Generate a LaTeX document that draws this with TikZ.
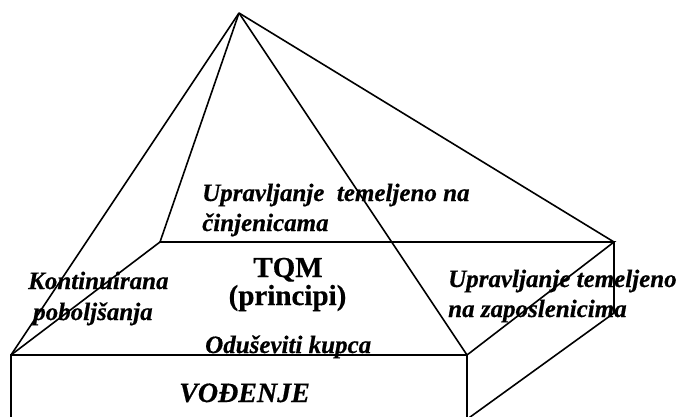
\documentclass[tikz,border=0pt]{standalone}
\usepackage{fontspec}
\setmainfont{Liberation Serif}[BoldFeatures={FakeBold=0.5},BoldItalicFeatures={FakeBold=0.5}]
\begin{document}
\begin{tikzpicture}[x=1pt,y=-1pt,
  edge/.style={line width=1.6pt,line join=miter},
  lbl/.style={inner sep=0pt,anchor=base west,font=\fontsize{25}{30}\selectfont\bfseries\itshape},
  title/.style={inner sep=0pt,anchor=base,font=\fontsize{29}{34}\selectfont\bfseries}]
\useasboundingbox (0,0) rectangle (681,416);
\clip (0,0) rectangle (681,416);
% corners
\coordinate (A) at (239,13);
\coordinate (FL) at (11,355);
\coordinate (FR) at (467,355);
\coordinate (BL) at (160,242);
\coordinate (BR) at (614,242);
\coordinate (BRb) at (614,313);
\coordinate (FLb) at (11,420);
\coordinate (FRb) at (467,420);
\coordinate (Dend) at (466,420);
% box
\draw[edge] (FLb) -- (FL) -- (FR) -- (FRb);
\draw[edge] (FL) -- (BL) -- (BR) -- (FR);
\draw[edge] (BR) -- (BRb) -- (Dend);
% pyramid
\draw[edge] (A) -- (FL);
\draw[edge] (A) -- (BL);
\draw[edge] (A) -- (FR);
\draw[edge] (A) -- (BR);
% texts
\node[lbl] (t1) at (202,201) {Upravljanje\ \ temeljeno na};
\node[lbl] (t2) at (202,231) {činjenicama};
\node[lbl] (k1) at (28,289) {Kontinuirana};
\node[lbl] (k2) at (33,320) {poboljšanja};
\node[lbl] (z1) at (448,287) {Upravljanje temeljeno};
\node[lbl] (z2) at (448,317) {na zaposlenicima};
\node[lbl] (o) at (205,353) {Oduševiti kupca};
\node[title] (tqm) at (288,277) {TQM};
\node[title] (pr) at (287.5,305) {(principi)};
\node[inner sep=0pt,anchor=base west,font=\fontsize{28}{32}\selectfont\bfseries\itshape] (v) at (179,402) {VOĐENJE};
\end{tikzpicture}
\end{document}
